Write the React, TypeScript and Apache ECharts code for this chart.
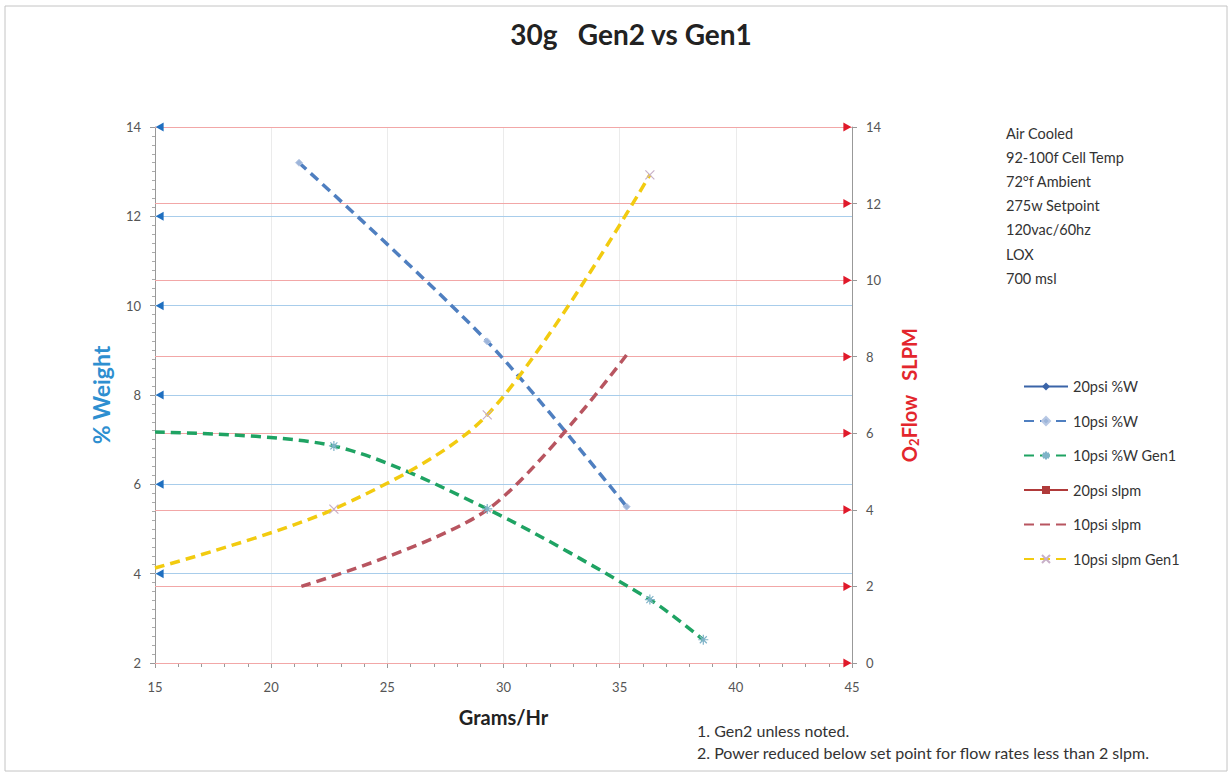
import React, { useEffect, useRef } from "react";
import * as echarts from "echarts";

const xTicks = [15, 20, 25, 30, 35, 40, 45];
const leftGrid = [4, 6, 8, 10, 12, 14];
const rightGrid = [0, 2, 4, 6, 8, 10, 12, 14];

// 10psi %W (Gen2, left axis)
const x10psiW = [21.2, 29.3, 35.3];
const y10psiW = [13.2, 9.2, 5.5];

// 10psi %W Gen1 (left axis)
const x10psiWGen1 = [15, 22.7, 29.3, 36.3, 38.6];
const y10psiWGen1 = [7.17, 6.86, 5.45, 3.42, 2.52];

// 10psi slpm (Gen2, right axis)
const x10psiSlpm = [21.3, 29.3, 35.3];
const y10psiSlpm = [2.0, 4.0, 8.05];

// 10psi slpm Gen1 (right axis)
const x10psiSlpmGen1 = [15, 22.7, 29.3, 36.3];
const y10psiSlpmGen1 = [2.48, 4.02, 6.48, 12.75];

const notesRight = [
  "Air Cooled",
  "92-100f Cell Temp",
  "72°f Ambient",
  "275w Setpoint",
  "120vac/60hz",
  "LOX",
  "700 msl",
];
const footNotes = [
  "1. Gen2 unless noted.",
  "2. Power reduced below set point for flow rates less than 2 slpm.",
];

const FONT = "Lato, 'Open Sans', sans-serif";

// first point sits on the plot's left edge (clipped in the original, so no marker there)
const pairs = (xs: number[], ys: number[], hideFirstAtEdge = false) =>
  xs.map((x, i) =>
    hideFirstAtEdge && i === 0 && x === xTicks[0]
      ? { value: [x, ys[i]], symbol: "none" }
      : [x, ys[i]]
  );

const ASTERISK = "path://M5,0L5,10M0,5L10,5M1.5,1.5L8.5,8.5M8.5,1.5L1.5,8.5";
const CROSS = "path://M0,0L10,10M10,0L0,10";

export default function App() {
  const ref = useRef<HTMLDivElement>(null);
  useEffect(() => {
    if (!ref.current) return;
    const chart = echarts.init(ref.current, undefined, { renderer: "svg" });
    const dash = { width: 3.5, type: [10, 6] };
    const option: any = {
      animation: false,
      backgroundColor: "#ffffff",
      textStyle: { fontFamily: FONT },
      title: {
        text: "30g   Gen2 vs Gen1",
        left: 626,
        top: 15,
        textAlign: "center",
        textStyle: { fontSize: 28, fontWeight: "bold", color: "#222", fontFamily: FONT },
      },
      legend: {
        orient: "vertical",
        left: 1018,
        top: 374,
        itemWidth: 44,
        itemHeight: 10,
        itemGap: 19.5,
        textStyle: { fontSize: 14.5, color: "#333", fontFamily: FONT },
        data: [
          "20psi %W",
          "10psi %W",
          "10psi %W Gen1",
          "20psi slpm",
          { name: "10psi slpm", itemStyle: { color: "rgba(0,0,0,0)", borderWidth: 0 } },
          "10psi slpm Gen1",
        ],
      },
      grid: { left: 155, right: 380, top: 127, bottom: 113 },
      xAxis: {
        type: "value",
        min: xTicks[0],
        max: xTicks[xTicks.length - 1],
        interval: 5,
        name: "Grams/Hr",
        nameLocation: "middle",
        nameGap: 44,
        nameTextStyle: { fontSize: 20, fontWeight: "bold", color: "#222", fontFamily: FONT },
        axisLine: { lineStyle: { color: "#999" } },
        axisTick: { show: true, length: 5, lineStyle: { color: "#999" } },
        minorTick: { show: true, splitNumber: 5, length: 4, lineStyle: { color: "#999" } },
        axisLabel: { fontSize: 13, color: "#555", margin: 17 },
        splitLine: { show: true, lineStyle: { color: "#ebebeb", width: 1 } },
      },
      yAxis: [
        {
          type: "value",
          min: 2,
          max: 14,
          interval: 2,
          position: "left",
          name: "% Weight",
          nameLocation: "middle",
          nameRotate: 90,
          nameGap: 43,
          nameTextStyle: { fontSize: 23, fontWeight: "bold", color: "#2E8FD0", fontFamily: FONT },
          axisLine: { show: true, lineStyle: { color: "#999" } },
          axisTick: { show: true, length: 5, lineStyle: { color: "#999" } },
          minorTick: { show: true, splitNumber: 10, length: 3, lineStyle: { color: "#aaa" } },
          axisLabel: { fontSize: 13, color: "#555", margin: 14 },
          splitLine: { show: false },
        },
        {
          type: "value",
          min: 0,
          max: 14,
          interval: 2,
          position: "right",
          name: "{a|O}{b|2}{a|Flow   SLPM}",
          nameLocation: "middle",
          nameRotate: 90,
          nameGap: 45,
          nameTextStyle: {
            color: "#E3262D",
            rich: {
              a: { fontSize: 20, fontWeight: "bold", color: "#E3262D", fontFamily: FONT },
              b: { fontSize: 13, fontWeight: "bold", color: "#E3262D", fontFamily: FONT, verticalAlign: "bottom", padding: [10, 0, 0, 0] },
            },
          },
          axisLine: { show: true, lineStyle: { color: "#999" } },
          axisTick: { show: true, length: 5, lineStyle: { color: "#999" } },
          axisLabel: { fontSize: 13, color: "#555", margin: 14 },
          splitLine: { show: false },
        },
      ],
      series: [
        {
          name: "20psi %W",
          type: "line",
          yAxisIndex: 0,
          data: [],
          symbol: "diamond",
          symbolSize: 8,
          itemStyle: { color: "#3A64A8" },
          lineStyle: { color: "#3A64A8", width: 3 },
        },
        {
          name: "10psi %W",
          type: "line",
          yAxisIndex: 0,
          data: pairs(x10psiW, y10psiW),
          smooth: 0.3,
          symbol: "diamond",
          symbolSize: 7,
          z: 3,
          itemStyle: { color: "#9DB5DA", borderColor: "#B8C8E4", borderWidth: 1 },
          lineStyle: { color: "#4F7FC0", ...dash },
          markLine: {
            silent: true,
            symbol: ["none", "none"],
            label: { show: false },
            lineStyle: { color: "#A8CDEB", width: 1.2, type: "solid" },
            data: leftGrid.map((v) => ({ yAxis: v })),
            z: 1,
          },
          markPoint: {
            silent: true,
            symbol: "triangle",
            symbolSize: [9, 8],
            symbolRotate: 90,
            label: { show: false },
            itemStyle: { color: "#1F6FC0" },
            data: leftGrid.map((v) => ({ coord: [15.2, v] })),
          },
        },
        {
          name: "10psi %W Gen1",
          type: "line",
          yAxisIndex: 0,
          data: pairs(x10psiWGen1, y10psiWGen1, true),
          smooth: 0.3,
          symbol: ASTERISK,
          symbolSize: 10,
          z: 3,
          itemStyle: { color: "rgba(0,0,0,0)", borderColor: "#7FB3C8", borderWidth: 1.2 },
          lineStyle: { color: "#1FA363", ...dash },
        },
        {
          name: "20psi slpm",
          type: "line",
          yAxisIndex: 1,
          data: [],
          symbol: "rect",
          symbolSize: 9,
          itemStyle: { color: "#B03A3A" },
          lineStyle: { color: "#B03A3A", width: 3 },
        },
        {
          name: "10psi slpm",
          type: "line",
          yAxisIndex: 1,
          data: pairs(x10psiSlpm, y10psiSlpm),
          smooth: 0.3,
          showSymbol: false,
          symbol: "none",
          z: 3,
          itemStyle: { color: "#B85560" },
          lineStyle: { color: "#B85560", ...dash },
          markLine: {
            silent: true,
            symbol: ["none", "none"],
            label: { show: false },
            lineStyle: { color: "#F2A7A7", width: 1.2, type: "solid" },
            data: rightGrid.map((v) => ({ yAxis: v })),
            z: 1,
          },
          markPoint: {
            silent: true,
            symbol: "triangle",
            symbolSize: [9, 8],
            symbolRotate: -90,
            label: { show: false },
            itemStyle: { color: "#E0192A" },
            data: rightGrid.map((v) => ({ coord: [44.8, v] })),
          },
        },
        {
          name: "10psi slpm Gen1",
          type: "line",
          yAxisIndex: 1,
          data: pairs(x10psiSlpmGen1, y10psiSlpmGen1, true),
          smooth: 0.3,
          symbol: CROSS,
          symbolSize: 9,
          z: 3,
          itemStyle: { color: "rgba(0,0,0,0)", borderColor: "#C8B0C8", borderWidth: 1.2 },
          lineStyle: { color: "#F2CB10", ...dash },
        },
      ],
      graphic: [
        {
          type: "rect",
          silent: true,
          shape: { x: 5, y: 6, width: 1222, height: 765 },
          style: { fill: "none", stroke: "#c4c4c4", lineWidth: 1 },
          z: -10,
        },
        {
          type: "text",
          left: 1006,
          top: 121,
          style: {
            text: notesRight.join("\n"),
            font: `14.5px ${FONT}`,
            fill: "#333",
            lineHeight: 24.2,
          },
        },
        {
          type: "text",
          left: 697,
          top: 719,
          style: {
            text: footNotes.join("\n"),
            font: `16px ${FONT}`,
            fill: "#333",
            lineHeight: 22,
          },
        },
      ],
    };
    chart.setOption(option);
    return () => chart.dispose();
  }, []);
  return (
    <div
      ref={ref}
      style={{ position: "fixed", left: 0, top: 0, width: 1232, height: 776 }}
    />
  );
}
